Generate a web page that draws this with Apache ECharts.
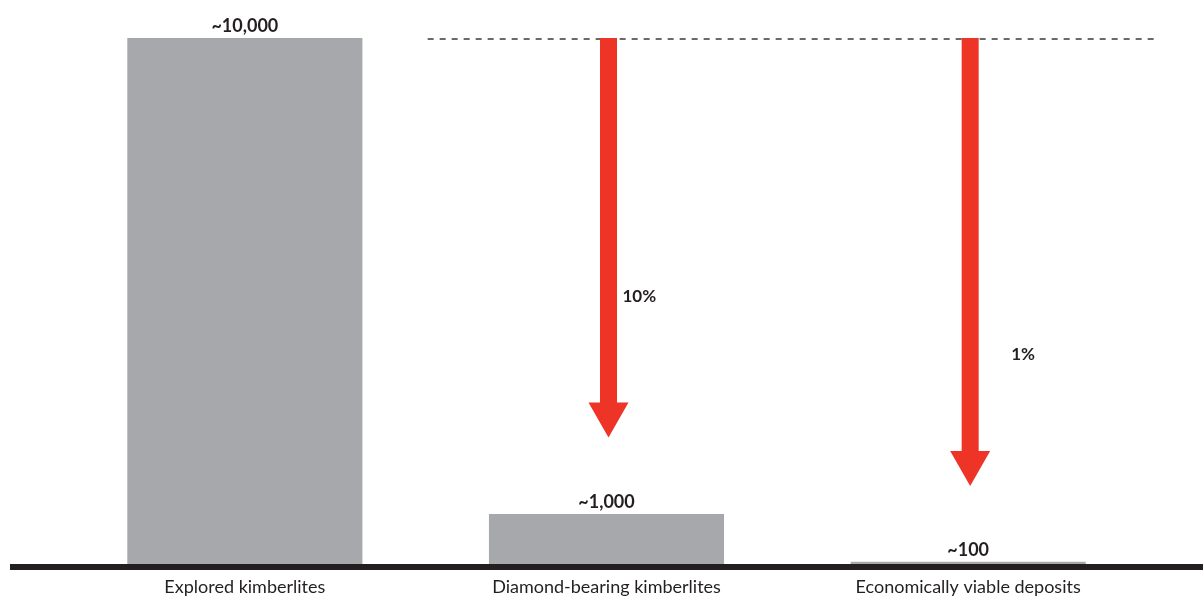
<!DOCTYPE html>
<html>
<head>
<meta charset="utf-8">
<script src="https://cdn.jsdelivr.net/npm/echarts@6/dist/echarts.min.js"></script>
<style>
html,body{margin:0;padding:0;background:#fff;}
#chart{width:1203px;height:597px;}
</style>
</head>
<body>
<div id="chart"></div>
<script>
const categories = ['Explored kimberlites', 'Diamond-bearing kimberlites', 'Economically viable deposits'];
const values = [10000, 1000, 100];
const valueLabels = ['~10,000', '~1,000', '~100'];
const arrowCategories = [1, 2];
const arrowStart = [10000, 10000];
const arrowEnd = [2450, 1530];
const arrowLabels = ['10%', '1%'];
const arrowLabelAt = [5120, 4010];

const FONT = 'Lato, "Noto Sans", sans-serif';
const chart = echarts.init(document.getElementById('chart'));

const arrowData = arrowCategories.map((c, i) => [c, arrowStart[i], arrowEnd[i], arrowLabelAt[i], i]);

chart.setOption({
  animation: false,
  grid: {left: 64, right: 54, top: 38, bottom: 30},
  xAxis: {
    type: 'category',
    data: categories,
    axisLine: {show: false},
    axisTick: {show: false},
    axisLabel: {color: '#231f20', fontSize: 18, fontFamily: FONT, margin: 11}
  },
  yAxis: {type: 'value', min: 0, max: 10000, show: false},
  series: [
    {
      type: 'bar',
      data: values,
      barWidth: '65%',
      itemStyle: {color: '#a7a8ab'},
      label: {
        show: true,
        position: 'top',
        distance: 3,
        formatter: p => valueLabels[p.dataIndex],
        color: '#231f20',
        fontSize: 18,
        fontWeight: 'bold',
        fontFamily: FONT
      },
      z: 2
    },
    {
      type: 'custom',
      data: arrowData,
      z: 3,
      renderItem: function (params, api) {
        const cat = api.value(0);
        const top = api.coord([cat, api.value(1)]);
        const tip = api.coord([cat, api.value(2)]);
        const lab = api.coord([cat, api.value(3)]);
        const idx = api.value(4);
        const shaftW = 17, headW = 40, headH = 35;
        const x = top[0] + 2;
        const children = [
          {
            type: 'polygon',
            shape: {points: [
              [x - shaftW / 2, top[1]], [x + shaftW / 2, top[1]],
              [x + shaftW / 2, tip[1] - headH], [x + headW / 2, tip[1] - headH],
              [x, tip[1]], [x - headW / 2, tip[1] - headH],
              [x - shaftW / 2, tip[1] - headH]
            ]},
            style: {fill: '#ee3427'}
          },
          {
            type: 'text',
            style: {
              text: arrowLabels[idx],
              x: idx === 0 ? x + 14 : x + 41,
              y: lab[1],
              verticalAlign: 'middle',
              fill: '#231f20',
              font: 'bold 17px ' + FONT
            }
          }
        ];
        if (idx === 0) {
          const bw = api.size([1, 0])[0];
          const rect = params.coordSys;
          children.unshift({
            type: 'line',
            shape: {x1: top[0] - bw / 2 + 2, y1: top[1] + 1, x2: rect.x + rect.width + 8, y2: top[1] + 1},
            style: {stroke: '#3a3a3a', lineWidth: 1.3, lineDash: [6, 6]}
          });
        }
        return {type: 'group', children: children};
      }
    }
  ]
});

// baseline axis across the full width
const baseY = chart.convertToPixel({seriesIndex: 0}, [0, 0])[1];
chart.setOption({
  graphic: [{
    type: 'rect',
    shape: {x: 10, y: baseY - 3, width: 1193, height: 6},
    style: {fill: '#231f20'},
    z: 10
  }]
});
</script>
</body>
</html>
